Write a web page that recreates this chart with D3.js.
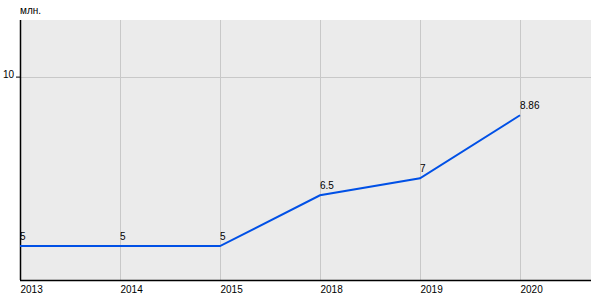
<!DOCTYPE html>
<html><head><meta charset="utf-8">
<script src="https://cdn.jsdelivr.net/npm/d3@7"></script>
<style>body{margin:0;background:#fff}svg{display:block;font-family:"Liberation Sans",Arial,sans-serif}</style>
</head><body><svg id="c" width="600" height="300"></svg>
<script>
const categories = ["2013","2014","2015","2018","2019","2020"];
const values = [5,5,5,6.5,7,8.86];
const labels = ["5","5","5","6.5","7","8.86"];
const yTicks = [10];
const unit = "млн.";

const svg = d3.select("#c");
const L=20, R=591, T=20, B=280;
const x = d3.scalePoint().domain(categories).range([L, L+100*(categories.length-1)]);
const y = d3.scaleLinear().domain([4, 11.67]).range([B, T]);

svg.append("rect").attr("x",L).attr("y",T).attr("width",R-L).attr("height",B-T).attr("fill","#ebebeb");
svg.append("g").selectAll("line").data(categories).join("line")
  .attr("x1",d=>x(d)+0.5).attr("x2",d=>x(d)+0.5).attr("y1",T).attr("y2",B)
  .attr("stroke","#c8c8c8").attr("stroke-width",1);
svg.append("g").selectAll("line").data(yTicks).join("line")
  .attr("x1",L).attr("x2",R).attr("y1",d=>Math.round(y(d))+0.5).attr("y2",d=>Math.round(y(d))+0.5)
  .attr("stroke","#c8c8c8").attr("stroke-width",1);
const yAxis = svg.append("g").attr("transform",`translate(${L},0)`)
  .call(d3.axisLeft(y).tickValues(yTicks).tickSize(4).tickSizeOuter(0).tickFormat(d3.format("d")));
yAxis.select(".domain").remove();
yAxis.selectAll("text").attr("font-size",10).attr("fill","#000").attr("x",-6).attr("dy","0.1em");
yAxis.selectAll(".tick line").attr("stroke","#000");
svg.append("line").attr("x1",L+0.5).attr("x2",L+0.5).attr("y1",T).attr("y2",B).attr("stroke","#000").attr("stroke-width",1.5);
svg.append("line").attr("x1",L).attr("x2",R).attr("y1",B+0.5).attr("y2",B+0.5).attr("stroke","#000").attr("stroke-width",1.5);
const xAxis = svg.append("g").attr("transform",`translate(0,${B})`)
  .call(d3.axisBottom(x).tickSize(0).tickSizeOuter(0));
xAxis.select(".domain").remove();
xAxis.selectAll("text").attr("font-size",10).attr("fill","#000").attr("text-anchor","start").attr("dy",0).attr("y",13);

svg.append("text").attr("x",L).attr("y",14).attr("font-size",10).attr("fill","#000").text(unit);

const line = d3.line().x((d,i)=>x(categories[i])).y(d=>y(d));
svg.append("path").datum(values).attr("d",line).attr("fill","none").attr("stroke","#0050e6").attr("stroke-width",2);

svg.append("g").selectAll("text").data(values).join("text")
  .attr("x",(d,i)=>x(categories[i])).attr("y",d=>y(d)-6)
  .attr("font-size",10).attr("fill","#000").text((d,i)=>labels[i]);
</script></body></html>
